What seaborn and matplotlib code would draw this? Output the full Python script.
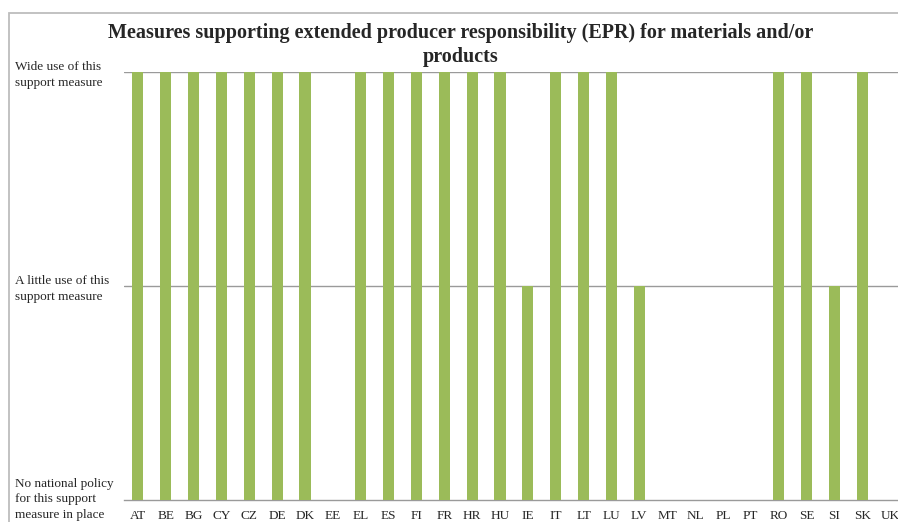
import matplotlib
matplotlib.use("Agg")
import matplotlib.pyplot as plt
from matplotlib.patches import Rectangle
from matplotlib.transforms import ScaledTranslation
import seaborn as sns
import pandas as pd

countries = ["AT", "BE", "BG", "CY", "CZ", "DE", "DK", "EE", "EL", "ES",
             "FI", "FR", "HR", "HU", "IE", "IT", "LT", "LU", "LV", "MT",
             "NL", "PL", "PT", "RO", "SE", "SI", "SK", "UK"]
# 0 = no national policy, 1 = a little use, 2 = wide use
levels = [2, 2, 2, 2, 2, 2, 2, 0, 2, 2,
          2, 2, 2, 2, 1, 2, 2, 2, 1, 0,
          0, 0, 0, 2, 2, 1, 2, 0]
level_labels = ["No national policy\nfor this support\nmeasure in place",
                "A little use of this\nsupport measure",
                "Wide use of this\nsupport measure"]
title = ("Measures supporting extended producer responsibility (EPR) for materials and/or\n"
         "products")

sns.set_style("white")
plt.rcParams["font.family"] = ["Liberation Serif", "DejaVu Serif"]

df = pd.DataFrame({"country": countries, "level": levels})

W, H = 898, 522
fig = plt.figure(figsize=(W / 100, H / 100), dpi=100)
ax = fig.add_axes([124 / W, 1 - 500 / H, (904 - 124) / W, (500 - 72) / H])

sns.barplot(data=df, x="country", y="level", color="#9BBB59", width=0.4,
            saturation=1, linewidth=0, ax=ax, zorder=3)

ax.set_xlim(-0.5, len(countries) - 0.5)
ax.set_ylim(0, 2)
ax.set_xlabel("")
ax.set_ylabel("")

# horizontal guides at the two upper levels
for y in (1, 2):
    ax.axhline(y, color="#9A9A9A", lw=1.0, zorder=1)

for s in ("top", "right", "left"):
    ax.spines[s].set_visible(False)
ax.spines["bottom"].set_color("#9A9A9A")
ax.spines["bottom"].set_linewidth(1.0)

# category labels centred, tick marks between categories
ax.set_xticks(range(len(countries)))
ax.set_xticklabels(countries, fontsize=9.5)
ax.tick_params(axis="x", which="major", length=0, pad=7)
ax.set_xticks([i - 0.5 for i in range(len(countries) + 1)], minor=True)
ax.tick_params(axis="x", which="minor", length=4, width=1.0,
               color="#9A9A9A", direction="out")

ax.set_yticks([0, 1, 2])
ax.set_yticklabels(level_labels, fontsize=9.5, linespacing=1.4)
ax.tick_params(axis="y", length=0, pad=(124 - 15) * 0.72)
for i, lbl in enumerate(ax.get_yticklabels()):
    lbl.set_horizontalalignment("left")
    lbl.set_multialignment("left")
    if i == 0:
        # lift the three-line baseline label so it stays inside the frame
        lbl.set_transform(lbl.get_transform()
                          + ScaledTranslation(0, 4 / 100, fig.dpi_scale_trans))

fig.text(461 / W, 1 - 23 / H, title, ha="center", va="top",
         fontsize=14.5, fontweight="bold", linespacing=1.25)

# chart frame
fig.patches.append(Rectangle((9 / W, -0.2), 1.5, 1.2 - 13 / H,
                             transform=fig.transFigure, fill=False,
                             ec="#BDBDBD", lw=1.3, zorder=0))

fig.savefig("out.png", dpi=100)
